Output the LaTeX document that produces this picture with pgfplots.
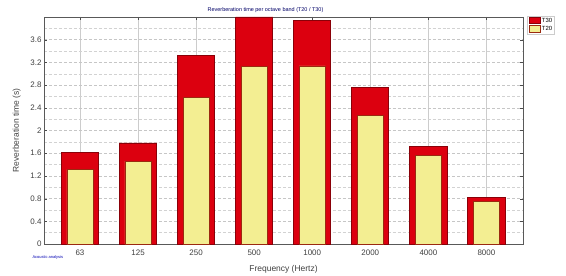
\documentclass[border=0pt]{standalone}
\usepackage{pgfplots}
\pgfplotsset{compat=1.18}
\usepackage{fontspec}
\setmainfont{Liberation Sans}
\definecolor{barred}{HTML}{DC000F}
\definecolor{baredge}{HTML}{8A0008}
\definecolor{baryel}{HTML}{F3EE92}
\definecolor{yeledge}{HTML}{9A2A10}
\begin{document}
\begin{tikzpicture}[x=1bp,y=1bp]
\path[use as bounding box] (0,0) rectangle (566,275);
\begin{axis}[
  at={(44bp,31bp)}, anchor=south west,
  scale only axis, width=479bp, height=227bp,
  xmin=-0.62, xmax=7.63, ymin=0, ymax=4.0,
  xtick={0,...,7},
  xticklabels={63,125,250,500,1000,2000,4000,8000},
  ytick={0,0.4,0.8,1.2,1.6,2,2.4,2.8,3.2,3.6},
  yticklabels={0,0.4,0.8,1.2,1.6,2,2.4,2.8,3.2,3.6},
  minor ytick={0.2,0.6,1.0,1.4,1.8,2.2,2.6,3.0,3.4,3.8},
  ymajorgrids, xmajorgrids, yminorgrids,
  major grid style={gray!45, densely dashed, line width=0.4pt},
  minor grid style={gray!35, densely dashed, line width=0.4pt},
  x grid style={gray!40, solid, line width=0.4pt},
  axis line style={gray!70!black, line width=0.8pt},
  tick style={gray!60!black},
  minor tick length=0pt,
  major tick length=3bp,
  tick label style={font=\fontsize{8}{9}\selectfont, text=black!75},
  xticklabel style={yshift=-2bp},
  yticklabel style={xshift=1bp},
  /pgf/number format/assume math mode=true,
  xlabel={Frequency (Hertz)},
  ylabel={Reverberation time (s)},
  label style={font=\fontsize{8.5}{10}\selectfont, text=black!75},
  xlabel style={yshift=-3bp},
  ylabel style={yshift=3bp},
  title={Reverberation time per octave band (T20 / T30)},
  title style={font=\fontsize{5.5}{6}\selectfont, text=blue!40!black, yshift=-5bp, xshift=-18bp},
  legend style={at={(1.009,1.005)}, anchor=north west, font=\fontsize{6}{7}\selectfont,
    draw=gray!40, fill=white, inner sep=1pt, row sep=0pt,
    nodes={inner sep=1.2pt}},
  legend image code/.code={\draw[#1] (0cm,-0.1cm) rectangle (0.4cm,0.12cm);},
  clip=false,
]
\addplot[ybar, bar width=0.64, bar shift=0pt, fill=barred, draw=baredge, line width=0.9pt]
  coordinates {(0,1.62) (1,1.78) (2,3.32) (3,4.0) (4,3.94) (5,2.76) (6,1.72) (7,0.82)};
\addlegendentry{T30}
\addplot[ybar, bar width=0.45, bar shift=0pt, fill=baryel, draw=yeledge, line width=0.5pt]
  coordinates {(0,1.31) (1,1.46) (2,2.59) (3,3.13) (4,3.14) (5,2.26) (6,1.56) (7,0.75)};
\addlegendentry{T20}
\end{axis}
\node[anchor=west, font=\fontsize{4}{4.5}\selectfont, text=blue!70!black] at (29,18) {Acoustic analysis};
\end{tikzpicture}
\end{document}
